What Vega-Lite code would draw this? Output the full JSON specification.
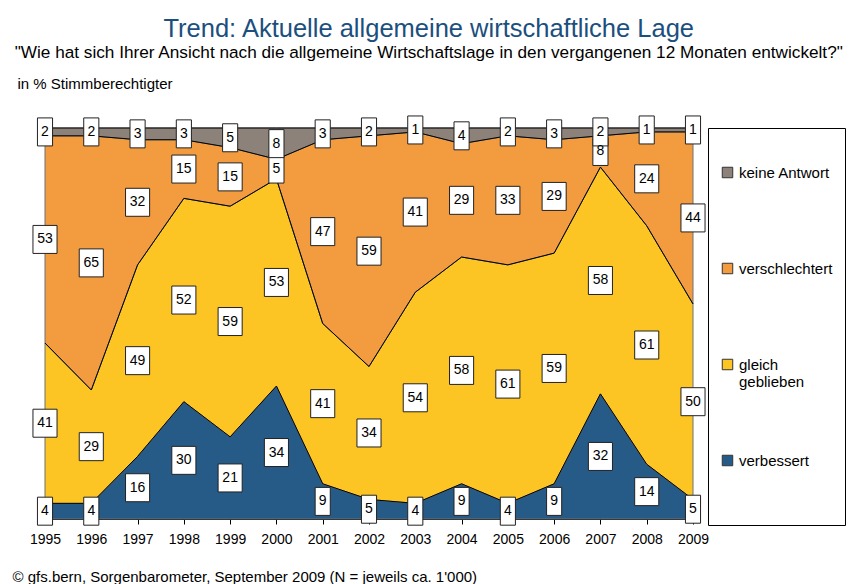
{
  "$schema": "https://vega.github.io/schema/vega-lite/v6.json",
  "width": 648,
  "height": 391,
  "autosize": {"type": "none"},
  "padding": {"left": 45, "top": 128, "right": 161, "bottom": 65},
  "background": "white",
  "title": {
    "text": "Trend: Aktuelle allgemeine wirtschaftliche Lage",
    "subtitle": "\"Wie hat sich Ihrer Ansicht nach die allgemeine Wirtschaftslage in den vergangenen 12 Monaten entwickelt?\"",
    "anchor": "middle",
    "frame": "bounds",
    "font": "Liberation Sans",
    "fontSize": 25.5,
    "fontWeight": "normal",
    "color": "#1b4f7e",
    "subtitleFont": "Liberation Sans",
    "subtitleFontSize": 17.2,
    "subtitleColor": "black",
    "subtitlePadding": 1,
    "offset": 15
  },
  "data": {
    "values": [
      {"year": 1995, "verbessert": 4, "gleich geblieben": 41, "verschlechtert": 53, "keine Antwort": 2},
      {"year": 1996, "verbessert": 4, "gleich geblieben": 29, "verschlechtert": 65, "keine Antwort": 2},
      {"year": 1997, "verbessert": 16, "gleich geblieben": 49, "verschlechtert": 32, "keine Antwort": 3},
      {"year": 1998, "verbessert": 30, "gleich geblieben": 52, "verschlechtert": 15, "keine Antwort": 3},
      {"year": 1999, "verbessert": 21, "gleich geblieben": 59, "verschlechtert": 15, "keine Antwort": 5},
      {"year": 2000, "verbessert": 34, "gleich geblieben": 53, "verschlechtert": 5, "keine Antwort": 8},
      {"year": 2001, "verbessert": 9, "gleich geblieben": 41, "verschlechtert": 47, "keine Antwort": 3},
      {"year": 2002, "verbessert": 5, "gleich geblieben": 34, "verschlechtert": 59, "keine Antwort": 2},
      {"year": 2003, "verbessert": 4, "gleich geblieben": 54, "verschlechtert": 41, "keine Antwort": 1},
      {"year": 2004, "verbessert": 9, "gleich geblieben": 58, "verschlechtert": 29, "keine Antwort": 4},
      {"year": 2005, "verbessert": 4, "gleich geblieben": 61, "verschlechtert": 33, "keine Antwort": 2},
      {"year": 2006, "verbessert": 9, "gleich geblieben": 59, "verschlechtert": 29, "keine Antwort": 3},
      {"year": 2007, "verbessert": 32, "gleich geblieben": 58, "verschlechtert": 8, "keine Antwort": 2},
      {"year": 2008, "verbessert": 14, "gleich geblieben": 61, "verschlechtert": 24, "keine Antwort": 1},
      {"year": 2009, "verbessert": 5, "gleich geblieben": 50, "verschlechtert": 44, "keine Antwort": 1}
    ]
  },
  "transform": [
    {"fold": ["verbessert", "gleich geblieben", "verschlechtert", "keine Antwort"], "as": ["cat", "value"]},
    {"calculate": "indexof(['verbessert','gleich geblieben','verschlechtert','keine Antwort'], datum.cat)", "as": "k"},
    {"stack": "value", "groupby": ["year"], "sort": [{"field": "k", "order": "ascending"}], "as": ["y0", "y1"]},
    {"calculate": "(datum.y0 + datum.y1) / 2", "as": "ymid"}
  ],
  "encoding": {
    "x": {
      "field": "year",
      "type": "quantitative",
      "scale": {"domain": [1995, 2009], "nice": false, "zero": false},
      "axis": {
        "values": [1995, 1996, 1997, 1998, 1999, 2000, 2001, 2002, 2003, 2004, 2005, 2006, 2007, 2008, 2009],
        "format": "d",
        "grid": false,
        "labelFlush": false,
        "labelOverlap": false,
        "labelFont": "Liberation Sans",
        "labelFontSize": 14,
        "labelColor": "black",
        "labelPadding": 8,
        "tickColor": "black",
        "tickSize": 5,
        "domainColor": "black",
        "title": "© gfs.bern, Sorgenbarometer, September 2009 (N = jeweils ca. 1'000)",
        "titleFont": "Liberation Sans",
        "titleFontSize": 15,
        "titleFontWeight": "normal",
        "titleColor": "black",
        "titleAlign": "left",
        "titleBaseline": "middle",
        "titleX": -33,
        "titleY": 57
      }
    }
  },
  "layer": [
    {
      "mark": {"type": "area", "opacity": 1, "fillOpacity": 1, "stroke": "#707070", "strokeWidth": 1, "strokeOpacity": 1},
      "encoding": {
        "y": {
          "field": "y1",
          "type": "quantitative",
          "stack": null,
          "scale": {"domain": [0, 100], "nice": false},
          "axis": {
            "labels": false,
            "ticks": false,
            "domain": false,
            "grid": false,
            "title": "in % Stimmberechtigter",
            "titleFont": "Liberation Sans",
            "titleFontSize": 15,
            "titleFontWeight": "normal",
            "titleColor": "black",
            "titleAngle": 0,
            "titleAlign": "left",
            "titleBaseline": "middle",
            "titleX": -28,
            "titleY": -45
          }
        },
        "y2": {"field": "y0"},
        "color": {
          "field": "cat",
          "type": "nominal",
          "scale": {
            "domain": ["keine Antwort", "verschlechtert", "gleich geblieben", "verbessert"],
            "range": ["#8c8279", "#f39b3f", "#fcc523", "#265a87"]
          },
          "legend": {
            "orient": "none",
            "legendX": 663,
            "legendY": 0,
            "title": " ",
            "titleOrient": "top",
            "titleFontSize": 8,
            "titlePadding": 17,
            "padding": 12,
            "rowPadding": 63,
            "strokeColor": "black",
            "fillColor": "white",
            "symbolType": "square",
            "symbolSize": 110,
            "symbolStrokeColor": "#333333",
            "symbolStrokeWidth": 1,
            "symbolOpacity": 1,
            "labelFont": "Liberation Sans",
            "labelFontSize": 15,
            "labelColor": "black",
            "labelOffset": 4,
            "labelLimit": 200,
            "labelExpr": "datum.label == 'gleich geblieben' ? ['gleich', 'geblieben'] : datum.label == 'verbessert' ? ['verbessert', '', ''] : [datum.label, '']",
            "encode": {
              "symbols": {
                "update": {
                  "stroke": {"value": "#333333"},
                  "strokeWidth": {"value": 1}
                }
              },
              "labels": {
                "update": {
                  "lineHeight": {"signal": "datum.label == 'verbessert' ? 22 : 17"}
                }
              }
            }
          }
        }
      }
    },
    {
      "mark": {"type": "line", "color": "black", "strokeWidth": 1, "opacity": 1},
      "encoding": {
        "y": {"field": "y1", "type": "quantitative"},
        "detail": {"field": "cat", "type": "nominal"}
      }
    },
    {
      "mark": {"type": "point", "filled": true, "fill": "white", "stroke": "#222222", "strokeWidth": 1, "opacity": 1, "size": 784},
      "encoding": {
        "y": {"field": "ymid", "type": "quantitative"},
        "shape": {
          "condition": {"test": "datum.value >= 10", "value": "M-0.86,-1L0.86,-1L0.86,1L-0.86,1Z"},
          "value": "M-0.54,-1L0.54,-1L0.54,1L-0.54,1Z"
        }
      }
    },
    {
      "mark": {"type": "text", "font": "Liberation Sans", "fontSize": 14, "color": "black", "baseline": "middle", "align": "center"},
      "encoding": {
        "y": {"field": "ymid", "type": "quantitative"},
        "text": {"field": "value", "type": "quantitative"}
      }
    }
  ],
  "config": {
    "view": {"stroke": null},
    "font": "Liberation Sans"
  }
}
